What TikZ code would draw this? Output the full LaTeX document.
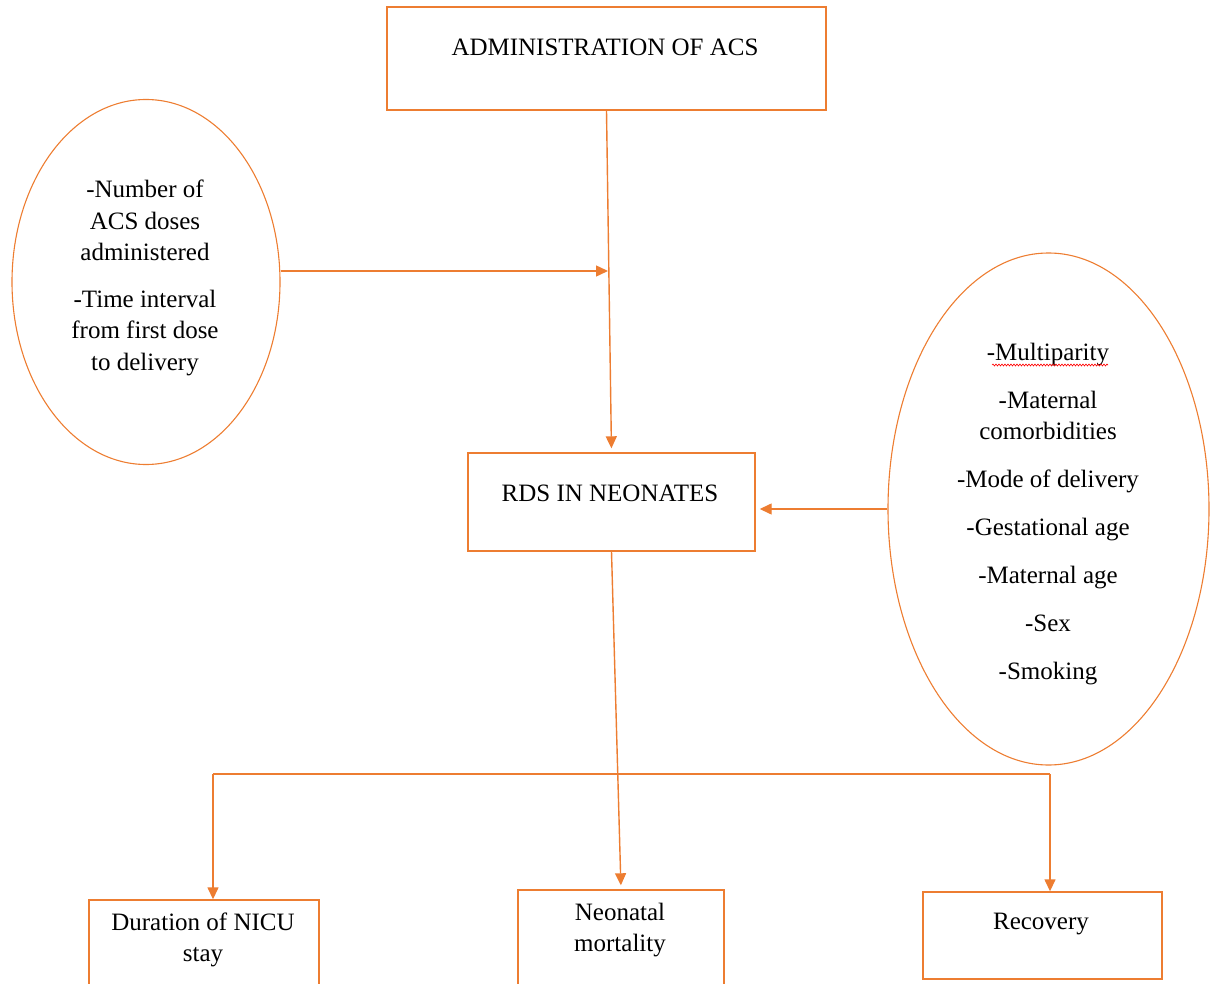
\documentclass[tikz,border=0pt]{standalone}
\usepackage{fontspec}
\setmainfont{Liberation Serif}
\usetikzlibrary{arrows.meta,shapes.geometric,decorations.pathmorphing}
\definecolor{acc}{HTML}{ED7D31}
\begin{document}
\begin{tikzpicture}[x=1pt,y=-1pt,
  box/.style={draw=acc,line width=1.4pt,rectangle,inner sep=0pt},
  oval/.style={draw=acc,line width=1.1pt,ellipse,inner sep=0pt},
  txt/.style={font=\fontsize{25}{31.5}\selectfont,align=center,inner sep=0pt,text=black},
  conn/.style={draw=acc,line width=1.4pt},
  arr/.style={conn,-{Triangle[length=12pt,width=11pt]},shorten >=4pt}]
\useasboundingbox (0,0) rectangle (1215,984);
\clip (0,0) rectangle (1215,984);

\node[box,minimum width=439pt,minimum height=103pt] (top) at (606.5,58.5) {};
\node[txt] (toptxt) at (605,47) {ADMINISTRATION OF ACS};

\node[oval,minimum width=268pt,minimum height=365pt] (left) at (146,282) {};
\node[txt] (lefttxt) at (145,278) {-Number of\\ACS doses\\administered\\[15pt]-Time interval\\from first dose\\to delivery};

\node[box,minimum width=287pt,minimum height=98pt] (rds) at (611.5,502) {};
\node[txt] (rdstxt) at (610,493) {RDS IN NEONATES};

\node[oval,minimum width=321pt,minimum height=512pt] (right) at (1048.5,509) {};
\node[txt] (righttxt) at (1048,514) {-Multiparity\\[16.5pt]-Maternal\\comorbidities\\[16.5pt]-Mode of delivery\\[16.5pt]-Gestational age\\[16.5pt]-Maternal age\\[16.5pt]-Sex\\[16.5pt]-Smoking};
\draw[red,line width=0.6pt,decorate,decoration={snake,amplitude=1pt,segment length=3pt}] (992,365) -- (1108,365);

\node[box,minimum width=230pt,minimum height=100pt] (dur) at (204,950) {};
\node[txt] (durtxt) at (203,940) {Duration of NICU\\stay};
\node[box,minimum width=206pt,minimum height=110pt] (neo) at (621,945) {};
\node[txt] (neotxt) at (620,930) {Neonatal\\mortality};
\node[box,minimum width=239pt,minimum height=87pt] (rec) at (1042.5,935.5) {};
\node[txt] (rectxt) at (1041,924) {Recovery};

\coordinate (j1) at (608,271);
\coordinate (h1) at (213,774);
\coordinate (h2) at (1050,774);

\draw[arr] (top.south) -- (rds.north);
\draw[arr,shorten >=0pt] (left.east |- j1) -- (j1);
\draw[arr] (right.west) -- (rds.east |- right.west);
\draw[arr] (rds.south) -- (neo.north);
\draw[conn] (h1) -- (h2);
\draw[arr,shorten >=0pt] (h1) -- (h1 |- dur.north);
\draw[arr,shorten >=0pt] (h2) -- (h2 |- rec.north);
\end{tikzpicture}
\end{document}
